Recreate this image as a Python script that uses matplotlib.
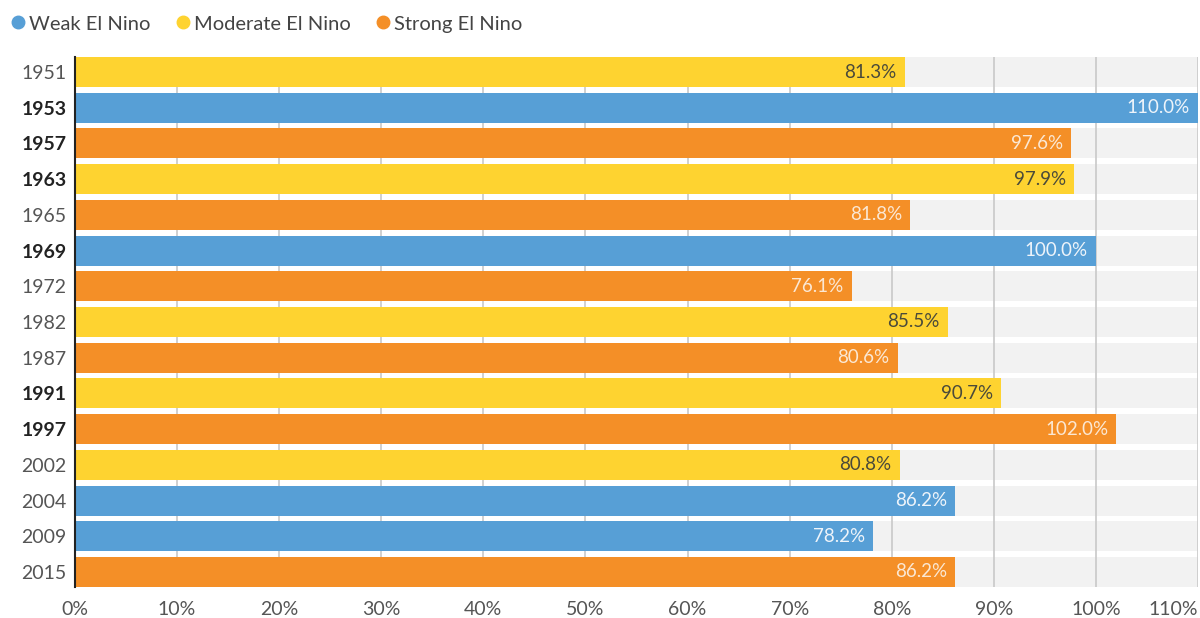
import matplotlib.pyplot as plt
from matplotlib.lines import Line2D

# data
years = ['1951', '1953', '1957', '1963', '1965', '1969', '1972', '1982',
         '1987', '1991', '1997', '2002', '2004', '2009', '2015']
values = [81.3, 110.0, 97.6, 97.9, 81.8, 100.0, 76.1, 85.5,
          80.6, 90.7, 102.0, 80.8, 86.2, 78.2, 86.2]
kinds = ['Moderate', 'Weak', 'Strong', 'Moderate', 'Strong', 'Weak', 'Strong', 'Moderate',
         'Strong', 'Moderate', 'Strong', 'Moderate', 'Weak', 'Weak', 'Strong']
bold_years = ['1953', '1957', '1963', '1969', '1991', '1997']
x_ticks = [0, 10, 20, 30, 40, 50, 60, 70, 80, 90, 100, 110]

colors = {'Weak': '#579fd6', 'Moderate': '#fed330', 'Strong': '#f48f27'}
text_cols = {'Weak': '#eef4fa', 'Moderate': '#4a4a3a', 'Strong': '#fbe8d4'}

plt.rcParams['font.family'] = ['Lato', 'DejaVu Sans']

fig = plt.figure(figsize=(12, 6.18), dpi=100)
ax = fig.add_axes([75/1200, 1-587/618, (1198-75)/1200, (587-57)/618])

h = 0.84
ypos = list(range(len(years)))
# gray background band per row
ax.barh(ypos, [110]*len(years), height=h, color='#f2f2f2', zorder=0)
ax.barh(ypos, values, height=h, color=[colors[k] for k in kinds], zorder=2)

for y, v, k in zip(ypos, values, kinds):
    ax.text(v - 0.8, y, '%.1f%%' % v, ha='right', va='center', fontsize=13.5,
            color=text_cols[k], zorder=3)

ax.set_xlim(0, 110)
ax.set_ylim(len(years)-1+h/2, -h/2)
ax.set_xticks(x_ticks)
ax.set_xticklabels(['%d%%' % t for t in x_ticks])
ax.set_yticks(ypos)
ax.set_yticklabels(years)
for lbl in ax.get_yticklabels():
    if lbl.get_text() in bold_years:
        lbl.set_fontweight('bold')
        lbl.set_color('#222222')
    else:
        lbl.set_color('#555555')
ax.tick_params(axis='both', length=0, labelsize=14)
ax.tick_params(axis='x', pad=10, colors='#555555')
ax.tick_params(axis='y', pad=6)
ax.get_xticklabels()[-1].set_horizontalalignment('right')
ax.grid(axis='x', color='#c8c8c8', linewidth=1.2, zorder=1)
ax.set_axisbelow(True)
for s in ['top', 'right', 'bottom']:
    ax.spines[s].set_visible(False)
ax.spines['left'].set_color('#222222')
ax.spines['left'].set_linewidth(1.5)
ax.spines['left'].set_zorder(4)

handles = [Line2D([], [], marker='o', linestyle='none', markersize=9,
                  color=colors[k]) for k in ['Weak', 'Moderate', 'Strong']]
fig.legend(handles, ['Weak El Nino', 'Moderate El Nino', 'Strong El Nino'],
           loc='center left', bbox_to_anchor=(0.0, 1-24/618), ncol=3, frameon=False,
           fontsize=14.5, handletextpad=0.05, columnspacing=1.1, labelcolor='#444444',
           borderaxespad=0, handlelength=1.0)

plt.savefig('out.png')
